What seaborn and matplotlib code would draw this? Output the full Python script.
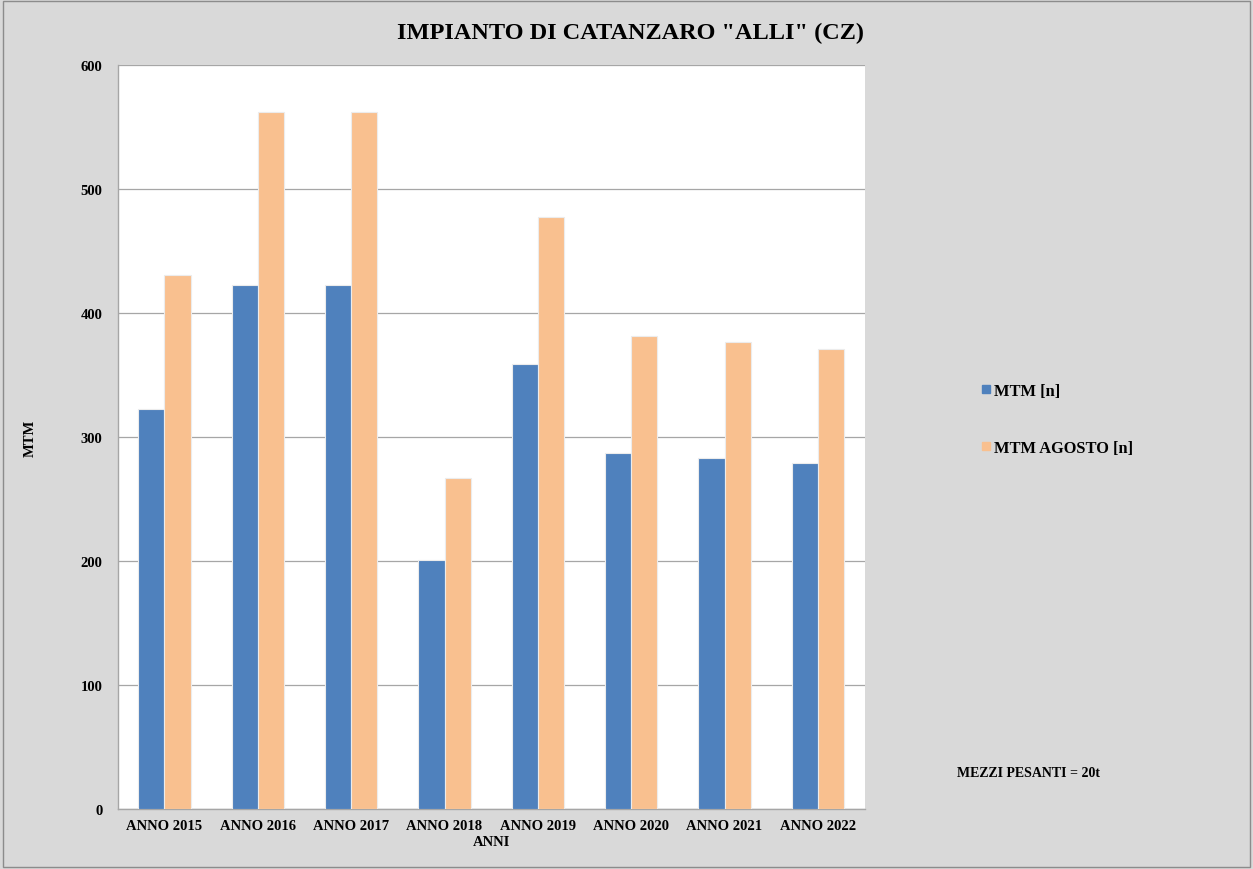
import matplotlib
matplotlib.use("Agg")
import matplotlib.pyplot as plt
from matplotlib.lines import Line2D
import pandas as pd
import seaborn as sns

anni = ["ANNO 2015", "ANNO 2016", "ANNO 2017", "ANNO 2018",
        "ANNO 2019", "ANNO 2020", "ANNO 2021", "ANNO 2022"]
mtm = [323, 423, 423, 201, 359, 287, 283, 279]
mtm_agosto = [431, 562, 562, 267, 478, 382, 377, 371]
serie = ["MTM [n]", "MTM AGOSTO [n]"]
colori = ["#4f81bd", "#f9c08f"]

df = pd.DataFrame({
    "anno": anni * 2,
    "valore": mtm + mtm_agosto,
    "serie": [serie[0]] * len(anni) + [serie[1]] * len(anni),
})

sns.set_style("white")
plt.rcParams["font.family"] = ["Liberation Serif", "DejaVu Serif"]
plt.rcParams["font.weight"] = "bold"
plt.rcParams["text.color"] = "black"
plt.rcParams["axes.labelcolor"] = "black"
plt.rcParams["xtick.color"] = "black"
plt.rcParams["ytick.color"] = "black"

fig = plt.figure(figsize=(12.53, 8.70), dpi=100, facecolor="#d9d9d9")
ax = fig.add_axes([0.094, 0.0686, 0.596, 0.8552])
ax.set_facecolor("white")

sns.barplot(data=df, x="anno", y="valore", hue="serie", palette=colori,
            saturation=1, width=0.56, gap=0.0, edgecolor="#ececec",
            linewidth=0.8, legend=False, ax=ax, zorder=3)

ax.set_ylim(0, 600)
ax.set_yticks(range(0, 601, 100))
ax.yaxis.grid(True, color="#a6a6a6", linewidth=0.9, zorder=0)
ax.set_axisbelow(True)
for s in ["top", "right"]:
    ax.spines[s].set_visible(False)
for s in ["left", "bottom"]:
    ax.spines[s].set_color("#a6a6a6")
    ax.spines[s].set_linewidth(1.0)
ax.tick_params(axis="y", length=5, color="#a6a6a6", labelcolor="black",
               labelsize=10.5, pad=6)
ax.tick_params(axis="x", length=0, labelcolor="black", labelsize=10.5, pad=7)
for t in ax.get_xticklabels() + ax.get_yticklabels():
    t.set_fontweight("bold")

ax.set_xlabel("ANNI", fontsize=10.5, fontweight="bold", labelpad=2)
ax.set_ylabel("MTM", fontsize=10.5, fontweight="bold")
ax.yaxis.set_label_coords(-0.108, 0.5)

fig.text(0.503, 0.962, 'IMPIANTO DI CATANZARO "ALLI" (CZ)', ha="center",
         va="center", fontsize=17.5, fontweight="bold")

handles = [Line2D([], [], marker="s", linestyle="", color=c, markersize=6)
           for c in colori]
fig.legend(handles, serie, loc="center left", bbox_to_anchor=(0.769, 0.517),
           frameon=False, prop={"size": 11.8, "weight": "bold"},
           handletextpad=0.05, labelspacing=2.5, handlelength=0.9)

fig.text(0.764, 0.111, "MEZZI PESANTI = 20t", ha="left", va="center",
         fontsize=10, fontweight="bold")

fig.patches.append(plt.Rectangle((0.002, 0.002), 0.996, 0.996,
                                 transform=fig.transFigure, fill=False,
                                 edgecolor="#8c8c8c", linewidth=1.0))

fig.savefig("out.png", dpi=100, facecolor=fig.get_facecolor())
